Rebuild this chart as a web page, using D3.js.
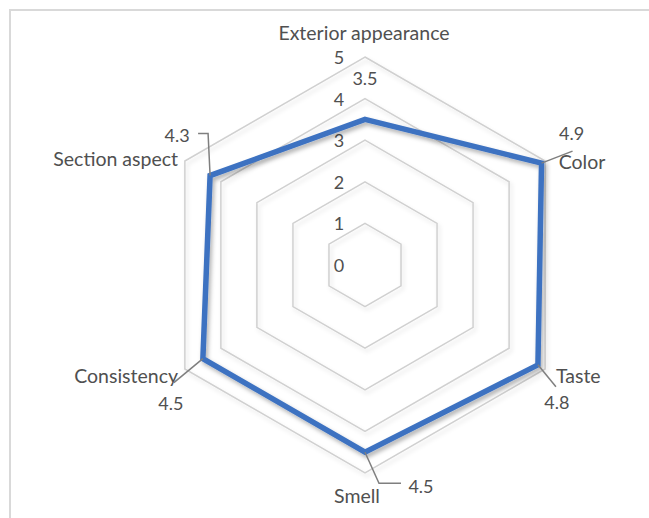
<!DOCTYPE html>
<html>
<head>
<meta charset="utf-8">
<script src="https://cdn.jsdelivr.net/npm/d3@7"></script>
<style>
  html, body { margin: 0; padding: 0; background: #fff; }
  svg { display: block; }
  text { font-family: Lato, "Open Sans", sans-serif; fill: #505050; }
</style>
</head>
<body>
<svg id="chart" width="649" height="518"></svg>
<script>
// Sensory scores per attribute
const categories = ["Exterior appearance", "Color", "Taste", "Smell", "Consistency", "Section aspect"];
const scores = [3.5, 4.9, 4.8, 4.5, 4.5, 4.3];
const tickValues = [0, 1, 2, 3, 4, 5];

const W = 649, H = 518;
const cx = 365, cy = 265, R = 208;
const svg = d3.select("#chart");

const defs = svg.append("defs");
const sh = defs.append("filter").attr("id", "shadow")
  .attr("x", "-10%").attr("y", "-10%").attr("width", "130%").attr("height", "130%");
sh.append("feDropShadow").attr("dx", 2).attr("dy", 3).attr("stdDeviation", 2)
  .attr("flood-color", "#000").attr("flood-opacity", 0.3);
const shGrid = defs.append("filter").attr("id", "gshadow")
  .attr("x", "-10%").attr("y", "-10%").attr("width", "130%").attr("height", "130%");
shGrid.append("feDropShadow").attr("dx", 2).attr("dy", 3).attr("stdDeviation", 2)
  .attr("flood-color", "#000").attr("flood-opacity", 0.12);

// chart frame
svg.append("rect").attr("x", 10).attr("y", 10).attr("width", W + 20).attr("height", H + 20)
  .attr("fill", "none").attr("stroke", "#d9d9d9").attr("stroke-width", 2);

const r = d3.scaleLinear().domain([0, 5]).range([0, R]);
const angle = d3.scalePoint().domain(categories).range([0, 2 * Math.PI * (categories.length - 1) / categories.length]);

const pt = (cat, v) => {
  const a = angle(cat) - Math.PI / 2;
  return [cx + r(v) * Math.cos(a), cy + r(v) * Math.sin(a)];
};

const g = svg.append("g");

// hexagonal gridlines
const line = d3.line();
g.selectAll("path.grid").data(tickValues.filter(d => d > 0)).join("path")
  .attr("class", "grid")
  .attr("d", v => line(categories.map(c => pt(c, v))) + "Z")
  .attr("fill", "none").attr("stroke", "#d0d0d0").attr("stroke-width", 1.5)
  .attr("filter", "url(#gshadow)");

// tick labels
g.selectAll("text.tick").data(tickValues).join("text")
  .attr("class", "tick")
  .attr("x", cx - 26).attr("y", v => cy - r(v))
  .attr("text-anchor", "middle").attr("dominant-baseline", "central")
  .attr("font-size", 18).text(d => d);

// data series
const dataPts = categories.map((c, i) => pt(c, scores[i]));
g.append("path")
  .attr("d", line(dataPts) + "Z")
  .attr("fill", "none").attr("stroke", "#3d72c1").attr("stroke-width", 5.5)
  .attr("stroke-linejoin", "miter")
  .attr("filter", "url(#shadow)");

// category labels
const catPos = [
  { x: 364, y: 32, anchor: "middle" },
  { x: 582, y: 161, anchor: "middle" },
  { x: 556, y: 375, anchor: "start" },
  { x: 357, y: 495, anchor: "middle" },
  { x: 178, y: 375, anchor: "end" },
  { x: 178, y: 158, anchor: "end" }
];
g.selectAll("text.cat").data(categories).join("text")
  .attr("class", "cat")
  .attr("x", (d, i) => catPos[i].x).attr("y", (d, i) => catPos[i].y)
  .attr("text-anchor", (d, i) => catPos[i].anchor).attr("dominant-baseline", "central")
  .attr("font-size", 19.5).text(d => d);

// value labels with leader lines
const valPos = [
  { dx: 0, dy: -41, leader: null },
  { dx: 30, dy: -30, leader: p => [[p[0], p[1]], [p[0] + 31, p[1] - 12]] },
  { dx: 19, dy: 37, leader: p => [[p[0], p[1]], [p[0] + 18, p[1] + 22]] },
  { dx: 56, dy: 34, leader: p => [[p[0], p[1]], [p[0] + 14, p[1] + 31], [p[0] + 36, p[1] + 31]] },
  { dx: -32, dy: 44, leader: p => [[p[0], p[1]], [p[0] - 29, p[1] + 24]] },
  { dx: -33, dy: -41, leader: p => [[p[0], p[1]], [p[0] - 2, p[1] - 42], [p[0] - 12, p[1] - 42]] }
];
dataPts.forEach((p, i) => {
  const vp = valPos[i];
  if (vp.leader) {
    g.append("path").attr("d", line(vp.leader(p)))
      .attr("fill", "none").attr("stroke", "#7f7f7f").attr("stroke-width", 1.5);
  }
  g.append("text")
    .attr("x", p[0] + vp.dx).attr("y", p[1] + vp.dy)
    .attr("text-anchor", "middle").attr("dominant-baseline", "central")
    .attr("font-size", 18).text(scores[i]);
});
</script>
</body>
</html>
